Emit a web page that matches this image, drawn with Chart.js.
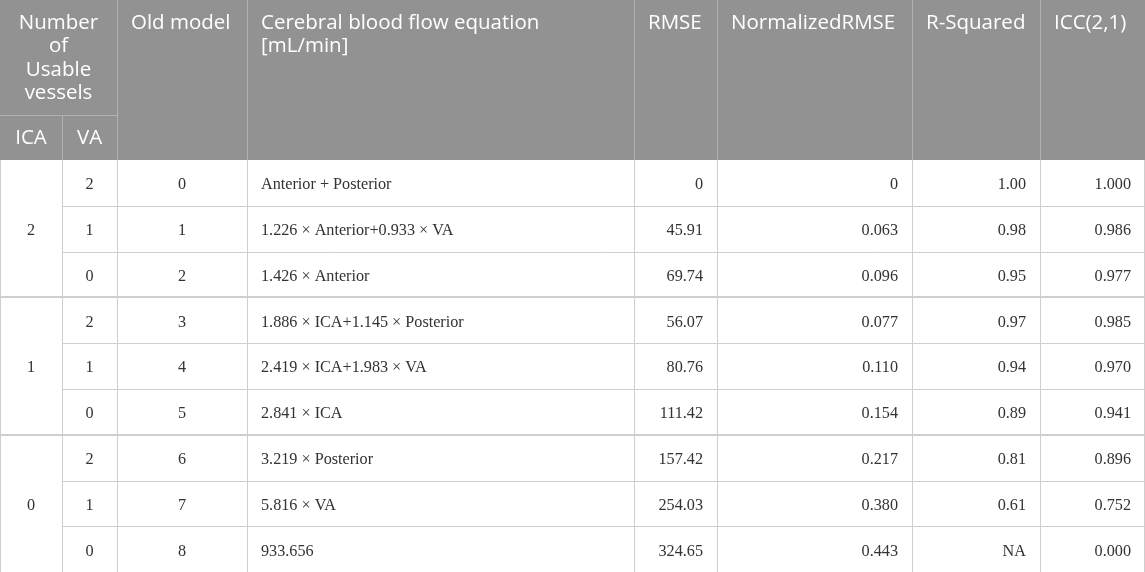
<!DOCTYPE html>
<html>
<head>
<meta charset="utf-8">
<script src="https://cdn.jsdelivr.net/npm/chart.js@4.4.1/dist/chart.umd.min.js"></script>
<style>
  html, body { margin: 0; padding: 0; background: #fff; }
  #wrap { width: 1145px; height: 572px; position: relative; }
</style>
</head>
<body>
<div id="wrap"><canvas id="table"></canvas></div>
<script>
// table content, row by row
const headerLabels = ["Number of Usable vessels", "Old model", "Cerebral blood flow equation [mL/min]", "RMSE", "NormalizedRMSE", "R-Squared", "ICC(2,1)"];
const subHeaderLabels = ["ICA", "VA"];
const icaGroups = ["2", "1", "0"];
const vaValues = ["2", "1", "0", "2", "1", "0", "2", "1", "0"];
const oldModels = ["0", "1", "2", "3", "4", "5", "6", "7", "8"];
const equations = [
  "Anterior + Posterior",
  "1.226 × Anterior+0.933 × VA",
  "1.426 × Anterior",
  "1.886 × ICA+1.145 × Posterior",
  "2.419 × ICA+1.983 × VA",
  "2.841 × ICA",
  "3.219 × Posterior",
  "5.816 × VA",
  "933.656"
];
const rmse = ["0", "45.91", "69.74", "56.07", "80.76", "111.42", "157.42", "254.03", "324.65"];
const normalizedRmse = ["0", "0.063", "0.096", "0.077", "0.110", "0.154", "0.217", "0.380", "0.443"];
const rSquared = ["1.00", "0.98", "0.95", "0.97", "0.94", "0.89", "0.81", "0.61", "NA"];
const icc = ["1.000", "0.986", "0.977", "0.985", "0.970", "0.941", "0.896", "0.752", "0.000"];

// layout (in scale units)
const colEdges = [0, 62, 117, 247, 634, 717, 912, 1040, 1145];
const headerSplit = 115;
const headerBottom = 160;
const rowHeight = 45.8;
const headBg = "#929292";
const lineColor = "#cfcfcf";
const headFont = "20.5px 'Open Sans'";
const bodyFont = "16.2px 'Liberation Serif'";

const tablePlugin = {
  id: "tableCells",
  beforeDraw(chart) {
    const { ctx, scales: { x, y } } = chart;
    const px = v => x.getPixelForValue(v);
    const py = v => y.getPixelForValue(v);
    const rowTop = i => headerBottom + i * rowHeight;
    const nRows = oldModels.length;
    const bottom = rowTop(nRows);

    ctx.save();
    // header background
    ctx.fillStyle = headBg;
    ctx.fillRect(px(0), py(0), px(1145) - px(0), py(headerBottom) - py(0));

    // header lines
    ctx.strokeStyle = "#b0b0b0";
    ctx.lineWidth = 1;
    const vline = (xv, y0, y1) => {
      ctx.beginPath();
      ctx.moveTo(Math.round(px(xv)) + 0.5, py(y0));
      ctx.lineTo(Math.round(px(xv)) + 0.5, py(y1));
      ctx.stroke();
    };
    const hline = (yv, x0, x1, w) => {
      ctx.lineWidth = w || 1;
      ctx.beginPath();
      const yy = w === 2 ? Math.round(py(yv)) : Math.round(py(yv)) + 0.5;
      ctx.moveTo(px(x0), yy);
      ctx.lineTo(px(x1), yy);
      ctx.stroke();
      ctx.lineWidth = 1;
    };
    vline(colEdges[1], headerSplit, headerBottom);
    for (let c = 2; c < colEdges.length - 1; c++) vline(colEdges[c], 0, headerBottom);
    hline(headerSplit, 0, colEdges[2]);

    // body lines
    ctx.strokeStyle = lineColor;
    for (let c = 0; c < colEdges.length; c++) {
      const xv = c === colEdges.length - 1 ? colEdges[c] - 1 : colEdges[c];
      vline(xv, headerBottom, bottom);
    }
    for (let r = 1; r < nRows; r++) {
      const group = r % 3 === 0;
      hline(rowTop(r), group ? 0 : colEdges[1], 1145, group ? 2 : 1);
    }

    // header text
    ctx.fillStyle = "#ffffff";
    ctx.font = headFont;
    ctx.textBaseline = "middle";
    const headLines = [["Number", "of", "Usable", "vessels"], ["Old model"], ["Cerebral blood flow equation", "[mL/min]"], ["RMSE"], ["NormalizedRMSE"], ["R-Squared"], ["ICC(2,1)"]];
    const colStarts = [0, 2, 3, 4, 5, 6, 7];
    headLines.forEach((lines, i) => {
      lines.forEach((t, k) => {
        const yy = py(23 + k * 23.5);
        if (i === 0) {
          ctx.textAlign = "center";
          ctx.fillText(t, (px(colEdges[0]) + px(colEdges[2])) / 2, yy);
        } else {
          ctx.textAlign = "left";
          ctx.fillText(t, px(colEdges[colStarts[i]]) + 14, yy);
        }
      });
    });
    ctx.textAlign = "center";
    subHeaderLabels.forEach((t, i) => {
      ctx.fillText(t, (px(colEdges[i]) + px(colEdges[i + 1])) / 2, py((headerSplit + headerBottom) / 2 + 1));
    });

    // body text
    ctx.fillStyle = "#333333";
    ctx.font = bodyFont;
    const mid = i => py(rowTop(i) + rowHeight / 2 + 2);
    const center = c => (px(colEdges[c]) + px(colEdges[c + 1])) / 2;
    icaGroups.forEach((t, g) => {
      ctx.textAlign = "center";
      ctx.fillText(t, center(0), py(rowTop(g * 3) + rowHeight * 1.5 + 2));
    });
    for (let r = 0; r < nRows; r++) {
      ctx.textAlign = "center";
      ctx.fillText(vaValues[r], center(1), mid(r));
      ctx.fillText(oldModels[r], center(2), mid(r));
      ctx.textAlign = "left";
      ctx.fillText(equations[r], px(colEdges[3]) + 14, mid(r));
      ctx.textAlign = "right";
      [rmse, normalizedRmse, rSquared, icc].forEach((arr, k) => {
        ctx.fillText(arr[r], px(colEdges[k + 5]) - 14, mid(r));
      });
    }
    ctx.restore();
  }
};

new Chart(document.getElementById("table"), {
  type: "scatter",
  data: { datasets: [{ data: [], pointRadius: 0 }] },
  options: {
    responsive: true,
    maintainAspectRatio: false,
    animation: false,
    layout: { padding: 0 },
    plugins: { legend: { display: false }, tooltip: { enabled: false } },
    scales: {
      x: { type: "linear", min: 0, max: 1145, display: false },
      y: { type: "linear", min: 0, max: 572, reverse: true, display: false }
    }
  },
  plugins: [tablePlugin]
});
</script>
</body>
</html>
